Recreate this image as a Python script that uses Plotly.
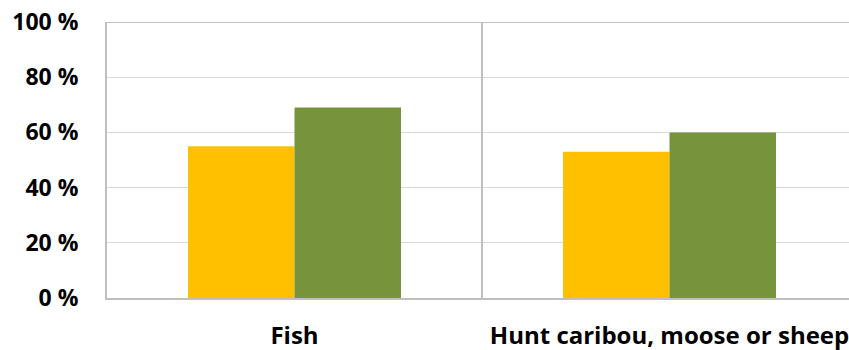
import plotly.graph_objects as go

categories = ["Fish", "Hunt caribou, moose or sheep"]
series_a = [55, 53]
series_b = [69, 60]
y_ticks = [0, 20, 40, 60, 80, 100]
y_tick_labels = ["0 %", "20 %", "40 %", "60 %", "80 %", "100 %"]

x_pos = list(range(len(categories)))

fig = go.Figure()
fig.add_trace(go.Bar(x=x_pos, y=series_a, marker=dict(color="#FFC000", line=dict(width=0)), showlegend=False))
fig.add_trace(go.Bar(x=x_pos, y=series_b, marker=dict(color="#77933C", line=dict(width=0)), showlegend=False))

fig.update_layout(
    width=849, height=350,
    margin=dict(l=107, r=0, t=22, b=52),
    paper_bgcolor="white", plot_bgcolor="white",
    barmode="group", bargap=0.432, bargroupgap=0,
    font=dict(family="Open Sans", size=20, color="#000000"),
    xaxis=dict(
        range=[-0.5, -0.5 + (849 - 107) / 375],
        tickvals=x_pos, ticktext=[f"<b>{c}</b>" for c in categories],
        tickfont=dict(family="Open Sans", size=24, color="#000000"),
        showgrid=False, zeroline=False,
        showline=True, linecolor="#BFBFBF", linewidth=2,
        ticks="", ticklabelstandoff=15,
        ticklabeloverflow="allow",
        fixedrange=True,
    ),
    yaxis=dict(
        range=[0, 100],
        tickvals=y_ticks, ticktext=[f"<b>{t}</b>" for t in y_tick_labels],
        tickfont=dict(family="Open Sans", size=23, color="#000000"),
        showgrid=True, gridcolor="#D9D9D9", gridwidth=1,
        zeroline=False,
        showline=True, linecolor="#BFBFBF", linewidth=2,
        ticks="", ticklabelstandoff=22,
        fixedrange=True,
    ),
)

# top border of the plot area
fig.add_shape(type="line", xref="paper", yref="y", x0=0, x1=1, y0=100, y1=100,
              line=dict(color="#BFBFBF", width=2))
# divider between the two categories
fig.add_shape(type="line", xref="x", yref="y", x0=0.5, x1=0.5, y0=0, y1=100,
              line=dict(color="#BFBFBF", width=2))

fig.write_html("out.html")
